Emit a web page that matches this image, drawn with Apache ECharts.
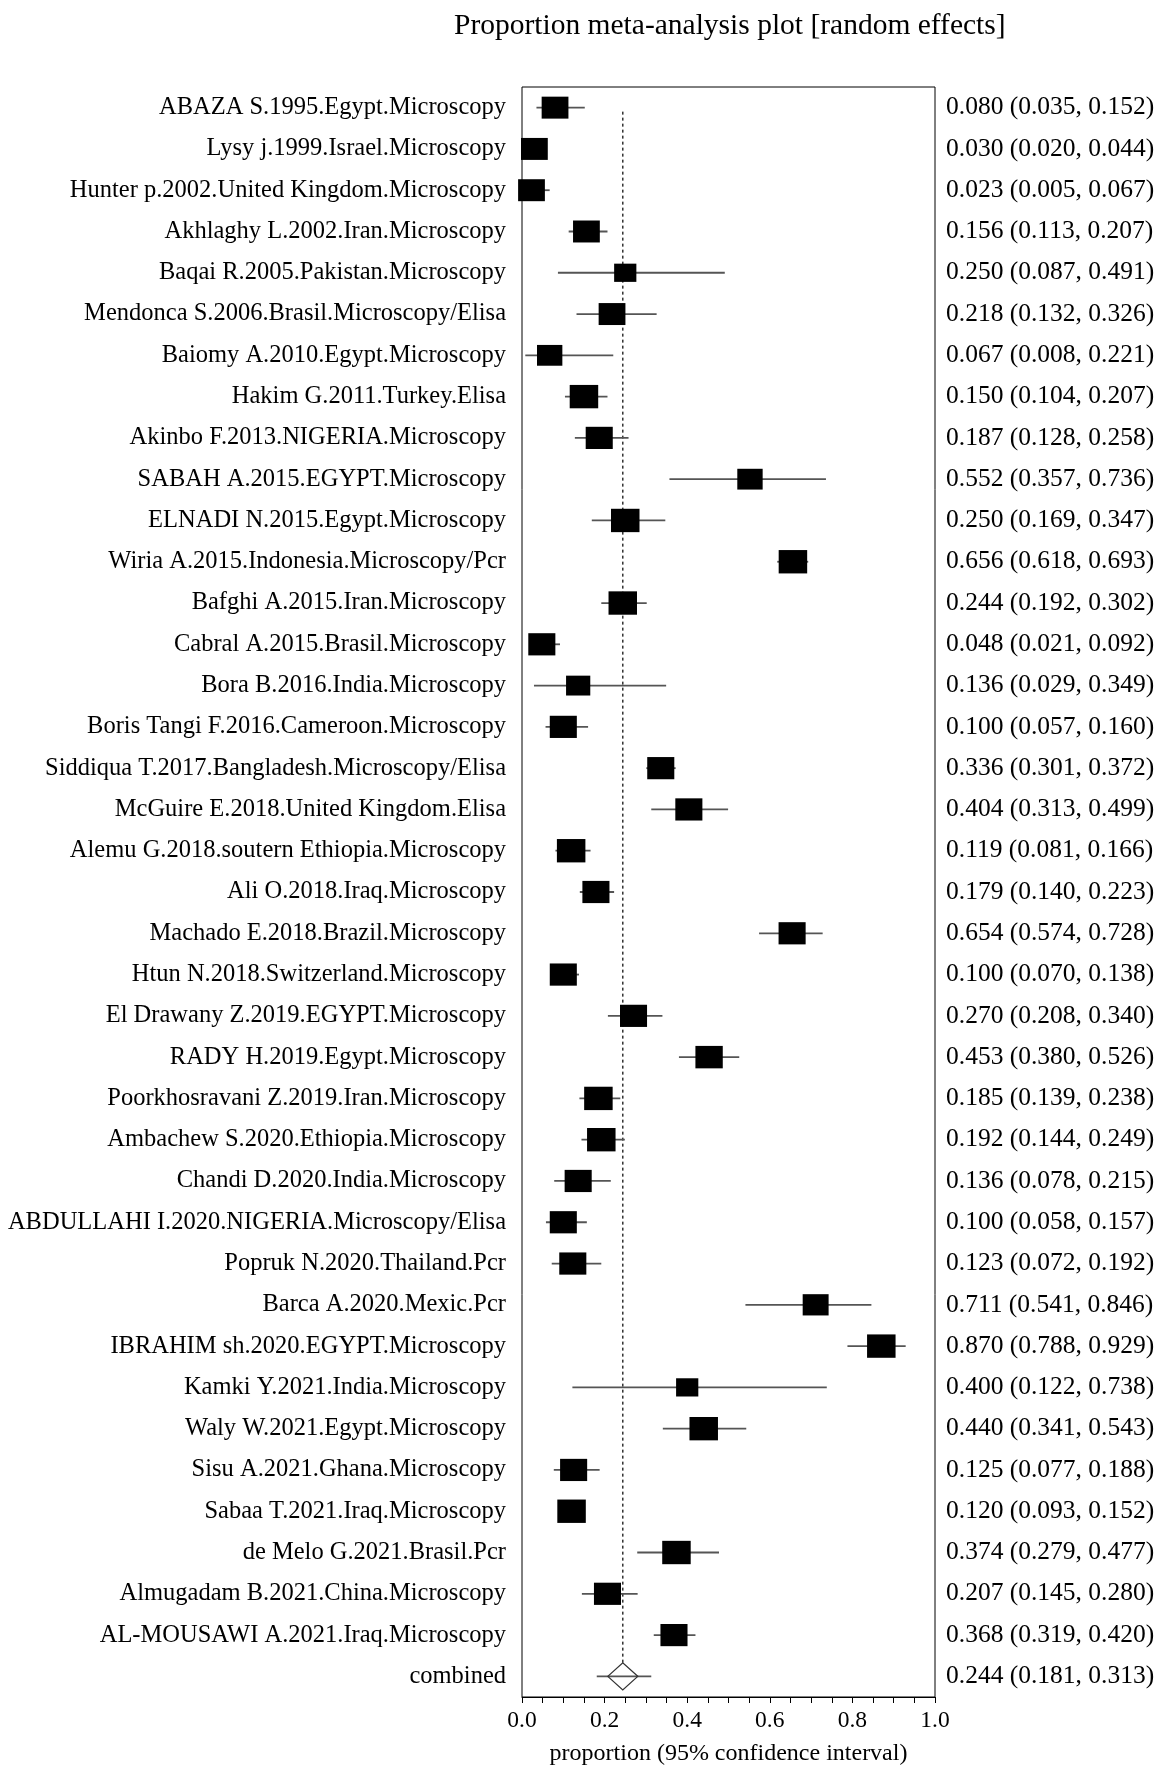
<!DOCTYPE html>
<html>
<head>
<meta charset="utf-8">
<title>Proportion meta-analysis plot</title>
<script src="https://cdn.jsdelivr.net/npm/echarts@6/dist/echarts.min.js"></script>
<style>
  html, body { margin: 0; padding: 0; background: #fff; }
  #chart { width: 1161px; height: 1766px; }
</style>
</head>
<body>
<div id="chart"></div>
<script>
// study labels, top to bottom
const studies = [
  'ABAZA S.1995.Egypt.Microscopy',
  'Lysy j.1999.Israel.Microscopy',
  'Hunter p.2002.United Kingdom.Microscopy',
  'Akhlaghy L.2002.Iran.Microscopy',
  'Baqai R.2005.Pakistan.Microscopy',
  'Mendonca S.2006.Brasil.Microscopy/Elisa',
  'Baiomy A.2010.Egypt.Microscopy',
  'Hakim G.2011.Turkey.Elisa',
  'Akinbo F.2013.NIGERIA.Microscopy',
  'SABAH A.2015.EGYPT.Microscopy',
  'ELNADI N.2015.Egypt.Microscopy',
  'Wiria A.2015.Indonesia.Microscopy/Pcr',
  'Bafghi A.2015.Iran.Microscopy',
  'Cabral A.2015.Brasil.Microscopy',
  'Bora B.2016.India.Microscopy',
  'Boris Tangi F.2016.Cameroon.Microscopy',
  'Siddiqua T.2017.Bangladesh.Microscopy/Elisa',
  'McGuire E.2018.United Kingdom.Elisa',
  'Alemu G.2018.soutern Ethiopia.Microscopy',
  'Ali O.2018.Iraq.Microscopy',
  'Machado E.2018.Brazil.Microscopy',
  'Htun N.2018.Switzerland.Microscopy',
  'El Drawany Z.2019.EGYPT.Microscopy',
  'RADY H.2019.Egypt.Microscopy',
  'Poorkhosravani Z.2019.Iran.Microscopy',
  'Ambachew S.2020.Ethiopia.Microscopy',
  'Chandi D.2020.India.Microscopy',
  'ABDULLAHI I.2020.NIGERIA.Microscopy/Elisa',
  'Popruk N.2020.Thailand.Pcr',
  'Barca A.2020.Mexic.Pcr',
  'IBRAHIM sh.2020.EGYPT.Microscopy',
  'Kamki Y.2021.India.Microscopy',
  'Waly W.2021.Egypt.Microscopy',
  'Sisu A.2021.Ghana.Microscopy',
  'Sabaa T.2021.Iraq.Microscopy',
  'de Melo G.2021.Brasil.Pcr',
  'Almugadam B.2021.China.Microscopy',
  'AL-MOUSAWI A.2021.Iraq.Microscopy'
]

const estimate = [
  0.080, 0.030, 0.023, 0.156, 0.250, 0.218, 0.067, 0.150, 0.187, 0.552,
  0.250, 0.656, 0.244, 0.048, 0.136, 0.100, 0.336, 0.404, 0.119, 0.179,
  0.654, 0.100, 0.270, 0.453, 0.185, 0.192, 0.136, 0.100, 0.123, 0.711,
  0.870, 0.400, 0.440, 0.125, 0.120, 0.374, 0.207, 0.368
]
const lower = [
  0.035, 0.020, 0.005, 0.113, 0.087, 0.132, 0.008, 0.104, 0.128, 0.357,
  0.169, 0.618, 0.192, 0.021, 0.029, 0.057, 0.301, 0.313, 0.081, 0.140,
  0.574, 0.070, 0.208, 0.380, 0.139, 0.144, 0.078, 0.058, 0.072, 0.541,
  0.788, 0.122, 0.341, 0.077, 0.093, 0.279, 0.145, 0.319
]
const upper = [
  0.152, 0.044, 0.067, 0.207, 0.491, 0.326, 0.221, 0.207, 0.258, 0.736,
  0.347, 0.693, 0.302, 0.092, 0.349, 0.160, 0.372, 0.499, 0.166, 0.223,
  0.728, 0.138, 0.340, 0.526, 0.238, 0.249, 0.215, 0.157, 0.192, 0.846,
  0.929, 0.738, 0.543, 0.188, 0.152, 0.477, 0.280, 0.420
]
// relative study weight (largest = 1)
const weight = [
  0.94, 0.94, 0.94, 0.94, 0.78, 0.94, 0.89, 1.00, 0.95, 0.89,
  1.00, 1.00, 1.00, 0.95, 0.85, 0.95, 0.95, 0.95, 1.00, 0.95,
  0.95, 0.95, 0.95, 0.96, 1.00, 1.00, 0.95, 0.95, 0.95, 0.91,
  1.00, 0.78, 1.00, 0.95, 1.00, 1.00, 0.95, 0.95
]

const pooledLabel = 'combined'
const pooled = [0.244, 0.181, 0.313]

const rows = studies.concat([pooledLabel])
const ciText = estimate.map((e, i) =>
  `${e.toFixed(3)} (${lower[i].toFixed(3)}, ${upper[i].toFixed(3)})`
).concat([`${pooled[0].toFixed(3)} (${pooled[1].toFixed(3)}, ${pooled[2].toFixed(3)})`])

const FONT = 'Liberation Serif'
const BOX_MAX = 28.5
const DIAMOND_W = 15
const DIAMOND_H = 13.5

const chart = echarts.init(document.getElementById('chart'), null, { renderer: 'canvas' })

const option = {
  backgroundColor: '#fff',
  animation: false,
  title: {
    text: 'Proportion meta-analysis plot [random effects]',
    left: 449,
    top: 6,
    textStyle: { fontFamily: FONT, fontSize: 29.5, fontWeight: 'normal', color: '#000' }
  },
  grid: {
    left: 522,
    top: 87,
    width: 413,
    height: 1610,
    show: true,
    borderColor: '#000',
    borderWidth: 1,
    backgroundColor: 'transparent',
    containLabel: false,
    outerBoundsMode: 'none'
  },
  xAxis: {
    type: 'value',
    min: 0,
    max: 1,
    interval: 0.2,
    name: 'proportion (95% confidence interval)',
    nameLocation: 'middle',
    nameGap: 45,
    nameTextStyle: { fontFamily: FONT, fontSize: 24, color: '#000' },
    axisLine: { show: true, lineStyle: { color: '#000', width: 1 } },
    axisTick: { show: true, inside: false, length: 6, lineStyle: { color: '#000' } },
    minorTick: { show: true, splitNumber: 4, length: 6, lineStyle: { color: '#000' } },
    splitLine: { show: false },
    axisLabel: {
      fontFamily: FONT, fontSize: 23.5, color: '#000', margin: 12,
      formatter: v => v.toFixed(1)
    }
  },
  yAxis: [
    {
      type: 'category',
      data: rows,
      inverse: true,
      axisLine: { show: false },
      axisTick: { show: false },
      splitLine: { show: false },
      axisLabel: { interval: 0, fontFamily: FONT, fontSize: 24.5, color: '#000', margin: 16 }
    },
    {
      type: 'category',
      data: ciText,
      inverse: true,
      position: 'right',
      axisLine: { show: false },
      axisTick: { show: false },
      splitLine: { show: false },
      axisLabel: { interval: 0, fontFamily: FONT, fontSize: 25.5, color: '#000', margin: 11, align: 'left' }
    }
  ],
  series: [
    {
      // pooled estimate reference line
      type: 'custom',
      clip: false,
      z: 1,
      data: [[pooled[0]]],
      renderItem: (params, api) => {
        const top = api.coord([api.value(0), 0])
        const bottom = api.coord([api.value(0), studies.length])
        return {
          type: 'line',
          shape: { x1: top[0], y1: top[1] + 4, x2: bottom[0], y2: bottom[1] - DIAMOND_H },
          style: { stroke: '#333', lineWidth: 1.5, lineDash: [3, 3] }
        }
      }
    },
    {
      // confidence intervals
      type: 'custom',
      clip: false,
      z: 2,
      data: lower.map((lo, i) => [lo, upper[i], i]).concat([[pooled[1], pooled[2], studies.length]]),
      encode: { x: [0, 1], y: 2 },
      renderItem: (params, api) => {
        const a = api.coord([api.value(0), api.value(2)])
        const b = api.coord([api.value(1), api.value(2)])
        return {
          type: 'line',
          shape: { x1: a[0], y1: a[1], x2: b[0], y2: b[1] },
          style: { stroke: '#555', lineWidth: 1.8 }
        }
      }
    },
    {
      // study boxes sized by weight
      type: 'custom',
      clip: false,
      z: 3,
      data: estimate.map((e, i) => [e, i, weight[i]]),
      encode: { x: 0, y: 1 },
      renderItem: (params, api) => {
        const c = api.coord([api.value(0), api.value(1)])
        const w = BOX_MAX * api.value(2)
        const h = w * 0.82
        return {
          type: 'rect',
          shape: { x: c[0] - w / 2, y: c[1] - h / 2, width: w, height: h },
          style: { fill: '#000' }
        }
      }
    },
    {
      // combined estimate diamond
      type: 'custom',
      clip: false,
      z: 4,
      data: [[pooled[0], studies.length]],
      encode: { x: 0, y: 1 },
      renderItem: (params, api) => {
        const c = api.coord([api.value(0), api.value(1)])
        return {
          type: 'polygon',
          shape: {
            points: [
              [c[0] - DIAMOND_W, c[1]],
              [c[0], c[1] - DIAMOND_H],
              [c[0] + DIAMOND_W, c[1]],
              [c[0], c[1] + DIAMOND_H]
            ]
          },
          style: { fill: 'none', stroke: '#333', lineWidth: 1.3 }
        }
      }
    }
  ]
}

chart.setOption(option)
</script>
</body>
</html>
